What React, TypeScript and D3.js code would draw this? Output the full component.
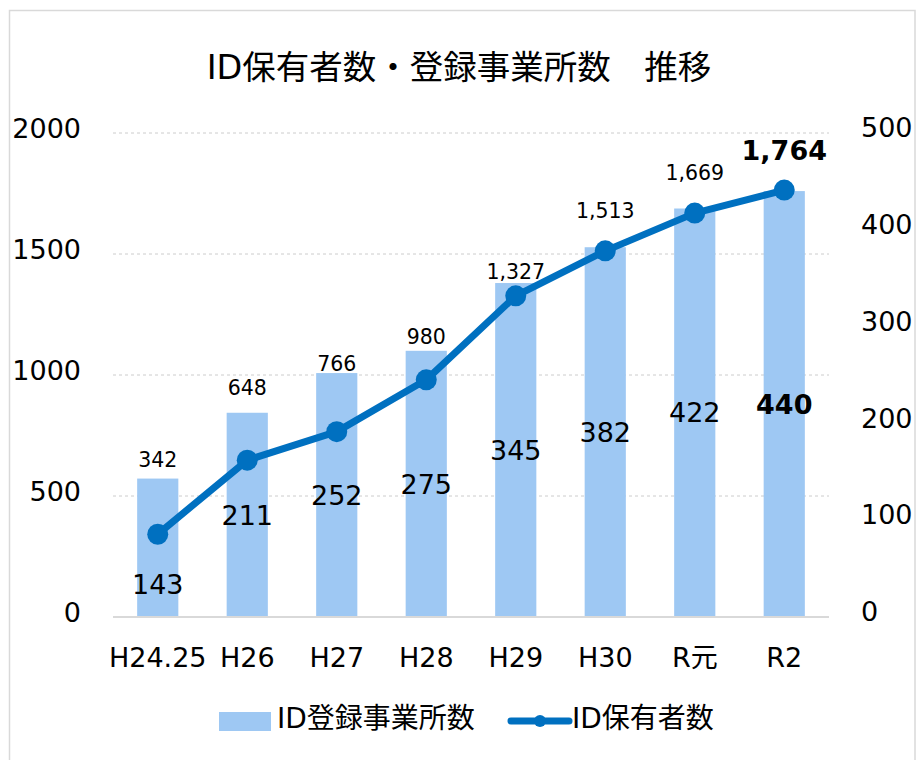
import React, { useEffect, useRef } from 'react';
import * as d3 from 'd3';

// ID登録事業所数 -> bars on the right axis, ID保有者数 -> line on the left axis
const categories = ['H24.25', 'H26', 'H27', 'H28', 'H29', 'H30', 'R元', 'R2'];
const officeCounts = [143, 211, 252, 275, 345, 382, 422, 440];
const holderCounts = [342, 648, 766, 980, 1327, 1513, 1669, 1764];
const leftTicks = [0, 500, 1000, 1500, 2000];
const rightTicks = [0, 100, 200, 300, 400, 500];

const TITLE = 'ID保有者数・登録事業所数　推移';
const OFFICE_NAME = 'ID登録事業所数';
const HOLDER_NAME = 'ID保有者数';

// label nudges (px above the higher of bar top / point), as placed in the original
const holderLabelLift = [19, 25, 9, 14, 11, 37, 36, 40];

const WIDTH = 916;
const HEIGHT = 760;
const FONT = "'DejaVu Sans', 'Noto Sans CJK JP', sans-serif";
const COLORS = {
  bar: '#9ec8f3',
  line: '#0070c0',
  grid: '#cccccc',
  axis: '#d9d9d9',
  frame: '#d9d9d9',
  text: '#000000'
};

function drawChart(node: SVGSVGElement | null) {
  if (!node) {
    return;
  }

  const plot = { left: 113, right: 829, top: 133, bottom: 617 };
  const svg = d3.select(node);
  svg.selectAll('*').remove();

  const x = d3.scaleBand<string>()
    .domain(categories)
    .range([plot.left, plot.right])
    .paddingInner(0.54)
    .paddingOuter(0.27);
  const yLeft = d3.scaleLinear().domain([0, 2000]).range([plot.bottom, plot.top]);
  const yRight = d3.scaleLinear().domain([0, 500]).range([plot.bottom, plot.top]);
  const cx = (cat: string) => (x(cat) || 0) + x.bandwidth() / 2;
  const last = categories.length - 1;

  svg.append('rect')
    .attr('x', 9.5)
    .attr('y', 10.5)
    .attr('width', 905.5)
    .attr('height', 800)
    .attr('fill', '#fff')
    .attr('stroke', COLORS.frame)
    .attr('stroke-width', 1.5);

  svg.append('text')
    .attr('x', 459)
    .attr('y', 79)
    .attr('text-anchor', 'middle')
    .attr('font-family', FONT)
    .attr('font-size', 33.5)
    .attr('fill', COLORS.text)
    .text(TITLE);

  // dotted gridlines
  svg.append('g')
    .selectAll('line')
    .data(leftTicks.filter((t) => t > 0))
    .join('line')
    .attr('x1', plot.left)
    .attr('x2', plot.right)
    .attr('y1', (t) => yLeft(t))
    .attr('y2', (t) => yLeft(t))
    .attr('stroke', COLORS.grid)
    .attr('stroke-width', 1)
    .attr('stroke-dasharray', '3,3');

  // axes
  svg.append('g')
    .attr('transform', `translate(${plot.left},0)`)
    .call(d3.axisLeft(yLeft).tickValues(leftTicks).tickSize(0).tickPadding(32).tickFormat(d3.format('d')))
    .call((g) => g.select('.domain').remove())
    .attr('font-family', FONT)
    .attr('font-size', 27)
    .call((g) => g.selectAll('text').attr('fill', COLORS.text).attr('y', -4));

  svg.append('g')
    .attr('transform', `translate(${plot.right},0)`)
    .call(d3.axisRight(yRight).tickValues(rightTicks).tickSize(0).tickPadding(32).tickFormat(d3.format('d')))
    .call((g) => g.select('.domain').remove())
    .attr('font-family', FONT)
    .attr('font-size', 27)
    .call((g) => g.selectAll('text').attr('fill', COLORS.text).attr('y', -5));

  svg.append('g')
    .attr('transform', `translate(0,${plot.bottom})`)
    .call(d3.axisBottom(x).tickSize(0).tickPadding(31))
    .call((g) => g.select('.domain').remove())
    .attr('font-family', FONT)
    .attr('font-size', 27)
    .call((g) => g.selectAll('text').attr('fill', COLORS.text));

  // bars
  svg.append('g')
    .selectAll('rect')
    .data(categories)
    .join('rect')
    .attr('x', (cat) => x(cat) || 0)
    .attr('y', (_, i) => yRight(officeCounts[i]))
    .attr('width', x.bandwidth())
    .attr('height', (_, i) => plot.bottom - yRight(officeCounts[i]))
    .attr('fill', COLORS.bar);

  svg.append('line')
    .attr('x1', plot.left)
    .attr('x2', plot.right)
    .attr('y1', plot.bottom)
    .attr('y2', plot.bottom)
    .attr('stroke', COLORS.axis)
    .attr('stroke-width', 2);

  // line
  const line = d3.line<number>()
    .x((_, i) => cx(categories[i]))
    .y((v) => yLeft(v));

  svg.append('path')
    .datum(holderCounts)
    .attr('d', line)
    .attr('fill', 'none')
    .attr('stroke', COLORS.line)
    .attr('stroke-width', 7)
    .attr('stroke-linejoin', 'round')
    .attr('stroke-linecap', 'round');

  svg.append('g')
    .selectAll('circle')
    .data(holderCounts)
    .join('circle')
    .attr('cx', (_, i) => cx(categories[i]))
    .attr('cy', (v) => yLeft(v))
    .attr('r', 10.5)
    .attr('fill', COLORS.line);

  // bar labels: centred in the bar, pushed below the marker if they collide
  svg.append('g')
    .selectAll('text')
    .data(officeCounts)
    .join('text')
    .attr('x', (_, i) => cx(categories[i]))
    .attr('y', (v, i) => {
      const mid = (yRight(v) + plot.bottom) / 2;
      const pointY = yLeft(holderCounts[i]);
      return Math.abs(mid - pointY) < 24 ? pointY + 50 : mid;
    })
    .attr('dy', '0.36em')
    .attr('text-anchor', 'middle')
    .attr('font-family', FONT)
    .attr('font-size', 27)
    .attr('font-weight', (_, i) => (i === last ? 700 : 400))
    .attr('fill', COLORS.text)
    .text((v) => d3.format(',')(v));

  // line labels above the higher mark
  svg.append('g')
    .selectAll('text')
    .data(holderCounts)
    .join('text')
    .attr('x', (_, i) => cx(categories[i]))
    .attr('y', (v, i) => Math.min(yLeft(v), yRight(officeCounts[i])) - holderLabelLift[i])
    .attr('dy', '0.36em')
    .attr('text-anchor', 'middle')
    .attr('font-family', FONT)
    .attr('font-size', (_, i) => (i === last ? 27 : 20.5))
    .attr('font-weight', (_, i) => (i === last ? 700 : 400))
    .attr('fill', COLORS.text)
    .text((v) => d3.format(',')(v));

  // legend
  const legend = svg.append('g').attr('font-family', FONT).attr('font-size', 28).attr('fill', COLORS.text);
  legend.append('rect')
    .attr('x', 219)
    .attr('y', 712)
    .attr('width', 52)
    .attr('height', 19)
    .attr('fill', COLORS.bar);
  legend.append('text').attr('x', 277).attr('y', 728).text(OFFICE_NAME);
  legend.append('line')
    .attr('x1', 511)
    .attr('x2', 569)
    .attr('y1', 721)
    .attr('y2', 721)
    .attr('stroke', COLORS.line)
    .attr('stroke-width', 7)
    .attr('stroke-linecap', 'round');
  legend.append('circle').attr('cx', 540).attr('cy', 721).attr('r', 6).attr('fill', COLORS.line);
  legend.append('text').attr('x', 572).attr('y', 728).text(HOLDER_NAME);
}

export default function App() {
  const svgRef = useRef<SVGSVGElement | null>(null);

  useEffect(() => {
    drawChart(svgRef.current);
  }, []);

  return (
    <svg
      ref={svgRef}
      width={WIDTH}
      height={HEIGHT}
      style={{ position: 'absolute', left: 0, top: 0, display: 'block', background: '#fff' }}
    />
  );
}
